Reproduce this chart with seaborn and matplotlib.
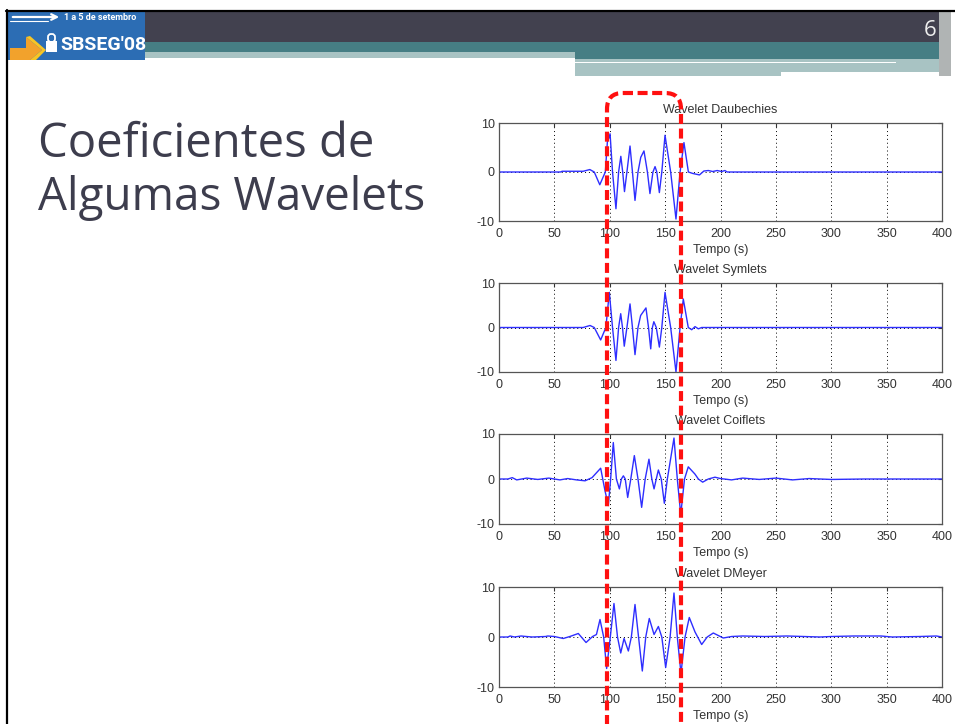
import numpy as np
import pandas as pd
import matplotlib
matplotlib.use('Agg')
import matplotlib.pyplot as plt
import seaborn as sns
from matplotlib.patches import Rectangle, FancyBboxPatch, Polygon

# valores (tempo em s, coeficiente)
db_t = [0, 55.5, 57, 76, 82, 86, 91, 96, 98.3, 99, 100.3, 102.5, 105.6, 108, 110, 111.7, 113.3, 115.5,
        118.3, 120.5, 122.8, 125.5, 128, 130.9, 134, 136.3, 139, 140.9, 142.5, 144.8, 147, 149.9, 155,
        159.8, 163.5, 167, 171, 175, 181, 185, 189, 193, 197, 201, 204, 206, 400]
db_y = [0, 0, 0.15, 0.15, 0.5, 0, -2.6, 0, 7.6, 6.8, 7.8, 0, -7.5, 0, 3.2, 0, -4.0, 0,
        5.3, 0, -5.8, 0, 3.0, 4.3, 0, -4.4, 0, 1.1, 0, -4.2, 0, 7.5, 0,
        -9.6, 0, 6.0, 0, -0.3, -0.6, 0.2, 0.3, 0.1, 0.3, 0.1, 0.3, 0, 0]

sym_t = [0, 76, 82.2, 86, 91.8, 96.5, 99.6, 102.5, 105.6, 108, 109.9, 111.5, 113.1, 115.5, 118.3,
         120.5, 122.8, 125.5, 127.9, 132.7, 135, 137, 138.5, 139.8, 142, 144.8, 147, 149.9, 155,
         159.8, 163.5, 166.4, 170.9, 174, 177, 180, 183, 400]
sym_y = [0, 0, 0.45, 0, -2.8, 0, 7.9, 0, -7.4, 0, 3.1, 0, -4.2, 0, 5.3,
         0, -6.1, 0, 2.7, 4.4, 0, -4.8, 0, 1.3, 0, -4.4, 0, 7.9, 0,
         -10, 0, 6.4, 0, -0.5, 0.2, -0.3, 0, 0]

coif_t = [0, 8, 12, 16, 25, 35, 45, 55, 62, 70, 77.7, 84, 91.8, 95.7, 98.7, 100.8, 103.2, 106, 108.7,
          110.5, 112.3, 114, 116.2, 119, 122.2, 125.5, 128.8, 132, 135.4, 138, 140, 142, 143.9, 146.5,
          149.3, 152, 158, 161, 164.1, 167.5, 170.9, 176.9, 180, 183.9, 189, 195, 200, 210, 220, 235,
          250, 265, 280, 300, 330, 400]
coif_y = [0, 0, 0.3, -0.2, 0.2, -0.1, 0.2, -0.2, 0.1, -0.2, -0.4, 0.3, 2.4, -2.6, -5.9, 0, 8.1, 0, -2.2,
          0, 0.7, 0, -4.1, 0, 5.2, 0, -6.3, 0, 4.4, 0, -2.2, 0, 2.0, 0,
          -5.4, 0, 9.1, 0, -7.9, 0, 2.7, 1.1, 0, -0.7, 0, 0.4, 0.1, -0.2, 0.2, -0.1,
          0.2, -0.2, 0.1, -0.1, 0, 0]

dmey_t = [0, 8, 10, 14, 20, 22, 30, 42, 44, 50, 58, 64, 71.6, 78.6, 84.5, 88, 91.2, 94.5, 97.2, 100.5,
          103.8, 107, 109.9, 112.9, 116.8, 119.5, 122.8, 126, 129.4, 132.5, 135.7, 140, 143.9, 147,
          150.5, 154.5, 158, 161, 164.3, 168, 171.8, 177, 183, 188, 193.5, 202.5, 210, 220, 240, 260,
          275, 290, 300, 320, 345, 355, 380, 395, 400]
dmey_y = [0, 0, 0.2, 0, 0.2, 0.15, 0, 0.1, 0.2, 0.1, -0.3, 0.1, 0.7, -1.1, 0.1, 0.5, 3.5, 0, -6.3, 0,
          6.7, 0, -3.2, -0.3, -2.8, 0, 6.5, 0, -6.8, 0, 3.7, 0.5, 2.1, 0,
          -6.1, 0, 8.8, 0, -7.3, 0, 3.9, 1.0, -1.5, 0, 0.8, -0.2, 0.1, 0.2, 0.1, 0.2,
          0.1, 0, 0.1, 0.2, 0.2, 0, 0.1, 0.2, 0]

titles = ['Wavelet Daubechies', 'Wavelet Symlets', 'Wavelet Coiflets', 'Wavelet DMeyer']
series = [(db_t, db_y), (sym_t, sym_y), (coif_t, coif_y), (dmey_t, dmey_y)]
x_ticks = [0, 50, 100, 150, 200, 250, 300, 350, 400]
y_ticks = [-10, 0, 10]

sns.set_style('white')
plt.rcParams['font.family'] = ['Liberation Sans', 'DejaVu Sans']
plt.rcParams['axes.unicode_minus'] = False

W, H = 955, 724
fig = plt.figure(figsize=(W / 100, H / 100), dpi=100)

# caixas dos eixos em pixels (topo, base)
boxes = [(123, 221), (283, 372), (434, 524), (587, 687)]
left, right = 499, 942

for (top, bot), title, (t, y) in zip(boxes, titles, series):
    ax = fig.add_axes([left / W, 1 - bot / H, (right - left) / W, (bot - top) / H])
    df = pd.DataFrame({'t': t, 'y': y})
    sns.lineplot(data=df, x='t', y='y', ax=ax, color='#2e2eff', lw=1.0, estimator=None)
    ax.set_xlim(0, 400)
    ax.set_ylim(-10, 10)
    ax.set_xticks(x_ticks)
    ax.set_yticks(y_ticks)
    ax.grid(True, ls=(0, (1, 3)), color='black', lw=0.7)
    ax.tick_params(direction='in', top=True, right=True, length=3, labelsize=9,
                   colors='#333333', labelcolor='#333333')
    ax.tick_params(axis='x', pad=5)
    ax.tick_params(axis='y', pad=3)
    for s in ax.spines.values():
        s.set_color('#555555')
        s.set_linewidth(0.9)
    ax.set_title(title, fontsize=9, pad=7, color='#333333')
    ax.set_xlabel('Tempo (s)', fontsize=9, labelpad=3, color='#333333')
    ax.set_ylabel('')

# camada do slide (coordenadas em pixels)
ov = fig.add_axes([0, 0, 1, 1], zorder=10)
ov.set_xlim(0, W)
ov.set_ylim(H, 0)
ov.axis('off')
ov.patch.set_alpha(0)

# cabecalho
ov.add_patch(Rectangle((7, 11), 932, 31, color='#42414f', lw=0))
ov.add_patch(Rectangle((145, 42), 794, 10, color='#467e84', lw=0))
ov.add_patch(Rectangle((145, 52), 430, 5.5, color='#a8c3c3', lw=0))
ov.add_patch(Rectangle((575, 52), 364, 6.5, color='#467e84', lw=0))
ov.add_patch(Rectangle((575, 58.5), 364, 17, color='#a8c3c3', lw=0))
ov.add_patch(Rectangle((575, 61.5), 321, 1.6, color='white', lw=0))
ov.add_patch(Rectangle((781, 71.5), 158, 5, color='white', lw=0))
ov.add_patch(Rectangle((939, 11), 12, 65, color='#b0b4b4', lw=0))
ov.plot([6, W], [10.5, 10.5], color='black', lw=1.6)
ov.plot([7, 7], [10, H], color='black', lw=1.6)
ov.text(930, 31, '6', color='#eeeeee', fontsize=16, ha='center', va='center', family='Open Sans')

# logotipo
ov.add_patch(Rectangle((8, 12), 137, 48, color='#2c6db4', lw=0))
ov.annotate('', xy=(62, 17), xytext=(10, 17),
            arrowprops=dict(arrowstyle='->', color='white', lw=1.6, mutation_scale=10))
ov.plot([10, 48], [21, 21], color='white', lw=0.8)
ov.text(64, 17.5, '1 a 5 de setembro', color='white', fontsize=6.5, fontweight='bold',
        va='center', ha='left', family='Roboto')
ov.add_patch(Polygon([[10, 60], [10, 48], [26, 48], [26, 37], [42, 50], [30, 60]],
                     closed=True, color='#f2a22c', lw=0))
ov.add_patch(Polygon([[26, 37], [42, 50], [30, 60], [36, 60], [46, 50], [30, 36]],
                     closed=True, color='#f7c524', lw=0))
ov.add_patch(Rectangle((46, 41), 11, 11, color='white', lw=0))
ov.add_patch(FancyBboxPatch((48, 34), 7, 8, boxstyle='round,pad=0,rounding_size=3',
                            ec='white', fc='none', lw=1.3))
ov.text(60, 45, "SBSEG'08", color='white', fontsize=14, fontweight='bold',
        va='center', ha='left', family='Roboto')

# titulo do slide
ov.text(38, 157, 'Coeficientes de', color='#3d3d4d', fontsize=34,
        family='Open Sans', va='baseline', ha='left')
ov.text(38, 210, 'Algumas Wavelets', color='#3d3d4d', fontsize=33,
        family='Open Sans', va='baseline', ha='left')

# destaque tracejado
ov.add_patch(FancyBboxPatch((607, 93), 74, 660, boxstyle='round,pad=0,rounding_size=16',
                            ec='#ff1010', fc='none', lw=3, ls=(0, (2.4, 1.1))))

fig.savefig('out.png', dpi=100)
